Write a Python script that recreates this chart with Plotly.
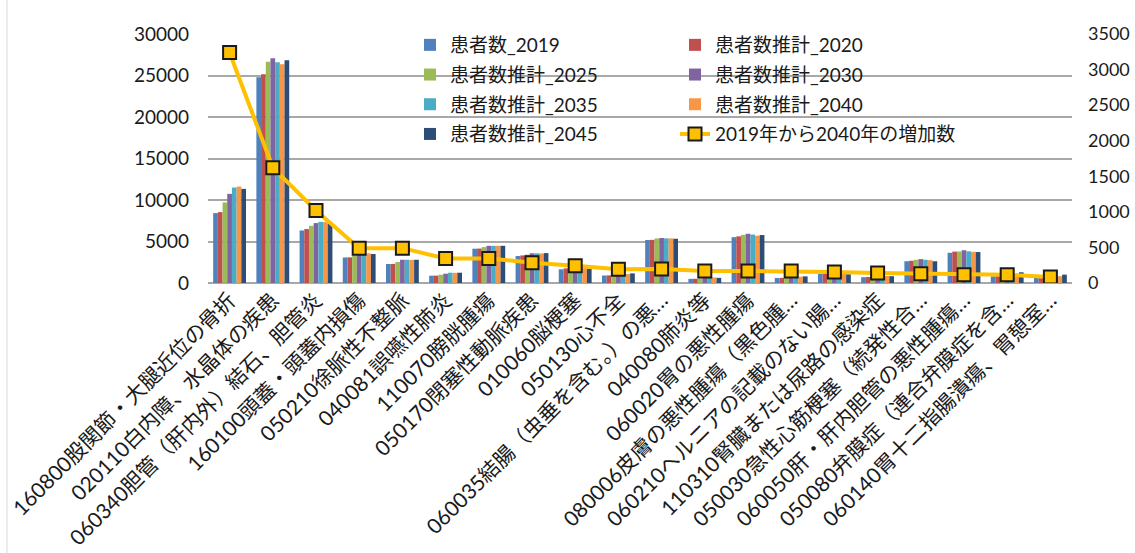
import plotly.graph_objects as go

categories = [
    "160800股関節・大腿近位の骨折",
    "020110白内障、水晶体の疾患",
    "060340胆管（肝内外）結石、胆管炎",
    "160100頭蓋・頭蓋内損傷",
    "050210徐脈性不整脈",
    "040081誤嚥性肺炎",
    "110070膀胱腫瘍",
    "050170閉塞性動脈疾患",
    "010060脳梗塞",
    "050130心不全",
    "060035結腸（虫垂を含む。）の悪…",
    "040080肺炎等",
    "060020胃の悪性腫瘍",
    "080006皮膚の悪性腫瘍（黒色腫…",
    "060210ヘルニアの記載のない腸…",
    "110310腎臓または尿路の感染症",
    "050030急性心筋梗塞（続発性合…",
    "060050肝・肝内胆管の悪性腫瘍…",
    "050080弁膜症（連合弁膜症を含…",
    "060140胃十二指腸潰瘍、胃憩室…",
]

patients_2019 = [8420, 24780, 6330, 3080, 2290, 880, 4130, 3250, 1650, 900, 5180, 500, 5520, 600, 1100, 700, 2620, 3640, 800, 730]
est_2020 = [8540, 25140, 6500, 3090, 2300, 890, 4150, 3320, 1760, 920, 5200, 510, 5620, 620, 1150, 720, 2680, 3780, 820, 740]
est_2025 = [9700, 26660, 6890, 3300, 2530, 1000, 4330, 3420, 1850, 1000, 5370, 560, 5800, 680, 1220, 790, 2800, 3800, 880, 780]
est_2030 = [10740, 27070, 7220, 3450, 2800, 1120, 4480, 3580, 1900, 1060, 5420, 620, 5930, 730, 1260, 830, 2880, 3950, 920, 810]
est_2035 = [11500, 26590, 7370, 3520, 2800, 1240, 4480, 3580, 1900, 1090, 5380, 660, 5840, 760, 1260, 840, 2800, 3820, 920, 815]
est_2040 = [11620, 26350, 7340, 3570, 2780, 1225, 4475, 3560, 1890, 1090, 5377, 668, 5700, 768, 1254, 840, 2751, 3757, 917, 814]
est_2045 = [11340, 26830, 7130, 3490, 2800, 1240, 4480, 3600, 1720, 1160, 5330, 620, 5780, 800, 1050, 820, 2620, 3730, 1290, 1010]
increase_2019_2040 = [3240, 1620, 1020, 490, 490, 345, 345, 285, 243, 192, 197, 168, 168, 168, 154, 140, 131, 117, 117, 84]

left_ticks = [0, 5000, 10000, 15000, 20000, 25000, 30000]

bar_series = [
    ("患者数_2019", patients_2019, "#4F81BD", "legend"),
    ("患者数推計_2020", est_2020, "#C0504D", "legend2"),
    ("患者数推計_2025", est_2025, "#9BBB59", "legend"),
    ("患者数推計_2030", est_2030, "#8064A2", "legend2"),
    ("患者数推計_2035", est_2035, "#4BACC6", "legend"),
    ("患者数推計_2040", est_2040, "#F79646", "legend2"),
    ("患者数推計_2045", est_2045, "#2C4D75", "legend"),
]

FONT = "Lato, 'Noto Sans CJK JP', sans-serif"
TXT = "#1a1a1a"
GRID = "#A8A8A8"

fig = go.Figure()
for name, vals, color, lg in bar_series:
    fig.add_trace(go.Bar(
        x=categories, y=vals, name=name, marker_color=color,
        marker_line_width=0, legend=lg, legendgroup=name,
    ))

fig.add_trace(go.Scatter(
    x=categories, y=increase_2019_2040, name="2019年から2040年の増加数",
    mode="lines+markers", yaxis="y2", legend="legend2", legendgroup="inc",
    line=dict(color="#FFC000", width=4),
    marker=dict(symbol="square", size=13, color="#FFC000",
                line=dict(color="#1a1a1a", width=2)),
))

W, H = 1135, 553
ml, mr, mt, mb = 208, 63, 34, 270
pw, ph = W - ml - mr, H - mt - mb

leg_common = dict(
    y=1 + 8 / ph, xanchor="left", yanchor="top",
    bgcolor="rgba(0,0,0,0)", font=dict(size=19, family=FONT, color=TXT),
    tracegroupgap=2, itemwidth=30, traceorder="grouped",
)

fig.update_layout(
    template="none",
    width=W, height=H,
    margin=dict(l=ml, r=mr, t=mt, b=mb, pad=0, autoexpand=False),
    paper_bgcolor="white", plot_bgcolor="white",
    font=dict(family=FONT, size=18, color=TXT),
    barmode="group", bargap=0.24, bargroupgap=0,
    showlegend=True,
    legend=dict(x=(410 - ml) / pw, **leg_common),
    legend2=dict(x=(675 - ml) / pw, **leg_common),
    xaxis=dict(
        type="category", range=[-0.5, len(categories) - 0.5],
        tickangle=-45, showgrid=False, ticks="",
        showline=False, automargin=False, zeroline=False,
        tickfont=dict(size=21, family=FONT, color=TXT),
    ),
    yaxis=dict(
        range=[left_ticks[0], left_ticks[-1]], tickvals=left_ticks,
        tickformat="d", showgrid=True,
        gridcolor=GRID, gridwidth=2, zeroline=True,
        zerolinecolor=GRID, zerolinewidth=2, automargin=False,
        ticks="", ticklabelstandoff=18,
        tickfont=dict(size=19, family=FONT, color=TXT), showline=False,
    ),
    yaxis2=dict(
        range=[0, 3500], dtick=500, tickformat="d", overlaying="y",
        side="right", showgrid=False, zeroline=False, ticks="",
        ticklabelstandoff=15, automargin=False,
        tickfont=dict(size=18, family=FONT, color=TXT), showline=False,
    ),
)

# chart-area border line on the far left
fig.add_shape(type="line", xref="paper", yref="paper",
              x0=(7 - ml) / pw, x1=(7 - ml) / pw,
              y0=-mb / ph, y1=(H - mt) / ph,
              line=dict(color="#D9D9D9", width=1))

fig.write_html("out.html")
